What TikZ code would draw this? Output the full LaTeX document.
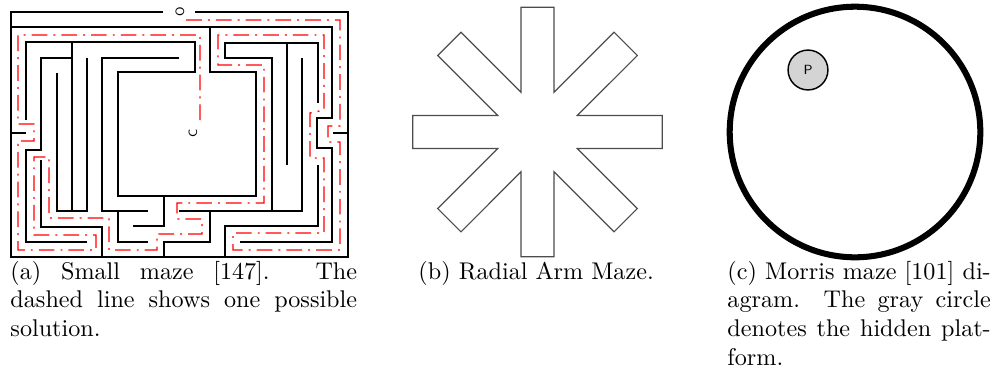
\documentclass[tikz,border=0pt]{standalone}
\usepackage{tikz}
\usetikzlibrary{positioning, arrows.meta, shapes.geometric}

\tikzset{
  wall/.style={line width=0.6pt},
  solution/.style={red, line width=0.55pt, dash pattern=on 6.5pt off 2.5pt on 0.8pt off 2.5pt},
  arm/.style={black!70, line width=0.5pt},
  pool/.style={line width=2.5pt},
  platform/.style={circle, draw, line width=0.6pt, fill=black!17, minimum size=16.5pt, inner sep=0pt, font=\fontsize{5.5}{6}\selectfont\sffamily},
  lbl/.style={inner sep=0pt, rotate=90, font=\fontsize{5}{6}\selectfont\sffamily},
  caption/.style={inner sep=0pt, anchor=base west}
}

\begin{document}
\begin{tikzpicture}[x=0.414pt, y=-0.414pt]
    \useasboundingbox (0,0) rectangle (995,378);

    % Labirinto (a)
    \draw[wall] (163,12) -- (11,12) -- (11,257) -- (348,257) -- (348,12) -- (195,12);
    \draw[wall] (11,133) -- (26,133);
    \draw[wall] (333,133) -- (348,133);
    \draw[wall] (11,27) -- (332,27) -- (332,118) -- (317,118) -- (317,148) -- (332,148) -- (332,242) -- (240,242);
    \draw[wall] (26,120) -- (26,42) -- (195,42) -- (195,72) -- (118,72) -- (118,196) -- (256,196) -- (256,72) -- (210,72) -- (210,27);
    \draw[wall] (72,42) -- (72,211);
    \draw[wall] (72,58) -- (41,58) -- (41,150) -- (26,150) -- (26,242) -- (87,242);
    \draw[wall] (41,160) -- (41,227) -- (102,227) -- (102,257);
    \draw[wall] (57,73) -- (57,211) -- (87,211) -- (87,58);
    \draw[wall] (179,58) -- (102,58) -- (102,211) -- (148,211);
    \draw[wall] (118,211) -- (118,242) -- (148,242);
    \draw[wall] (133,226) -- (164,226) -- (164,196);
    \draw[wall] (164,257) -- (164,242) -- (210,242) -- (210,211);
    \draw[wall] (179,211) -- (302,211) -- (302,58);
    \draw[wall] (272,211) -- (272,58) -- (225,58) -- (225,43) -- (318,43) -- (318,103);
    \draw[wall] (287,43) -- (287,165);
    \draw[wall] (318,165) -- (318,226) -- (225,226) -- (225,257);
    \node[lbl] (start) at (180,12) {O};
    \node[lbl] (goal) at (193,133) {C};

    % Soluzione
    \draw[solution] (200,120) -- (200,35) -- (18,35) -- (18,124) -- (34,124) -- (34,141) -- (18,141)
        -- (18,250) -- (96,250) -- (96,235) -- (34,235) -- (34,157) -- (49,157) -- (49,218)
        -- (109,218) -- (109,250) -- (157,250) -- (157,234) -- (202,234) -- (202,219) -- (177,219)
        -- (177,203) -- (264,203) -- (264,65) -- (218,65) -- (218,35) -- (324,35) -- (324,110)
        -- (310,113) -- (310,158) -- (324,158) -- (324,233) -- (233,233) -- (233,250) -- (340,250)
        -- (340,142) -- (328,142) -- (328,126) -- (340,126) -- (340,20) -- (180,20);

    % Radial arm maze (b)
    \begin{scope}[shift={(537.5,132)}]
        \draw[arm] (-22.5:43.1) \foreach \a in {0,45,...,315} {
            -- (\a-7.54:125.8) -- (\a+7.54:125.8) -- (\a+22.5:43.1)
        } -- cycle;
    \end{scope}

    % Morris (c)
    \draw[pool] (855,132) circle[radius=125.3];
    \node[platform] (plat) at (808,70) {P};

    % Didascalie
    \node[caption, text width=143.5pt, align=justify] (capa) at (10,279)
        {(a) Small maze [147]. The\linebreak dashed line shows one possible\linebreak solution.};
    \node[caption] (capb) at (418,279) {(b) Radial Arm Maze.};
    \node[caption, text width=109pt, align=justify] (capc) at (727,279)
        {(c) Morris maze [101] di-\linebreak agram. The gray circle\linebreak denotes the hidden plat-\linebreak form.};
\end{tikzpicture}
\end{document}
